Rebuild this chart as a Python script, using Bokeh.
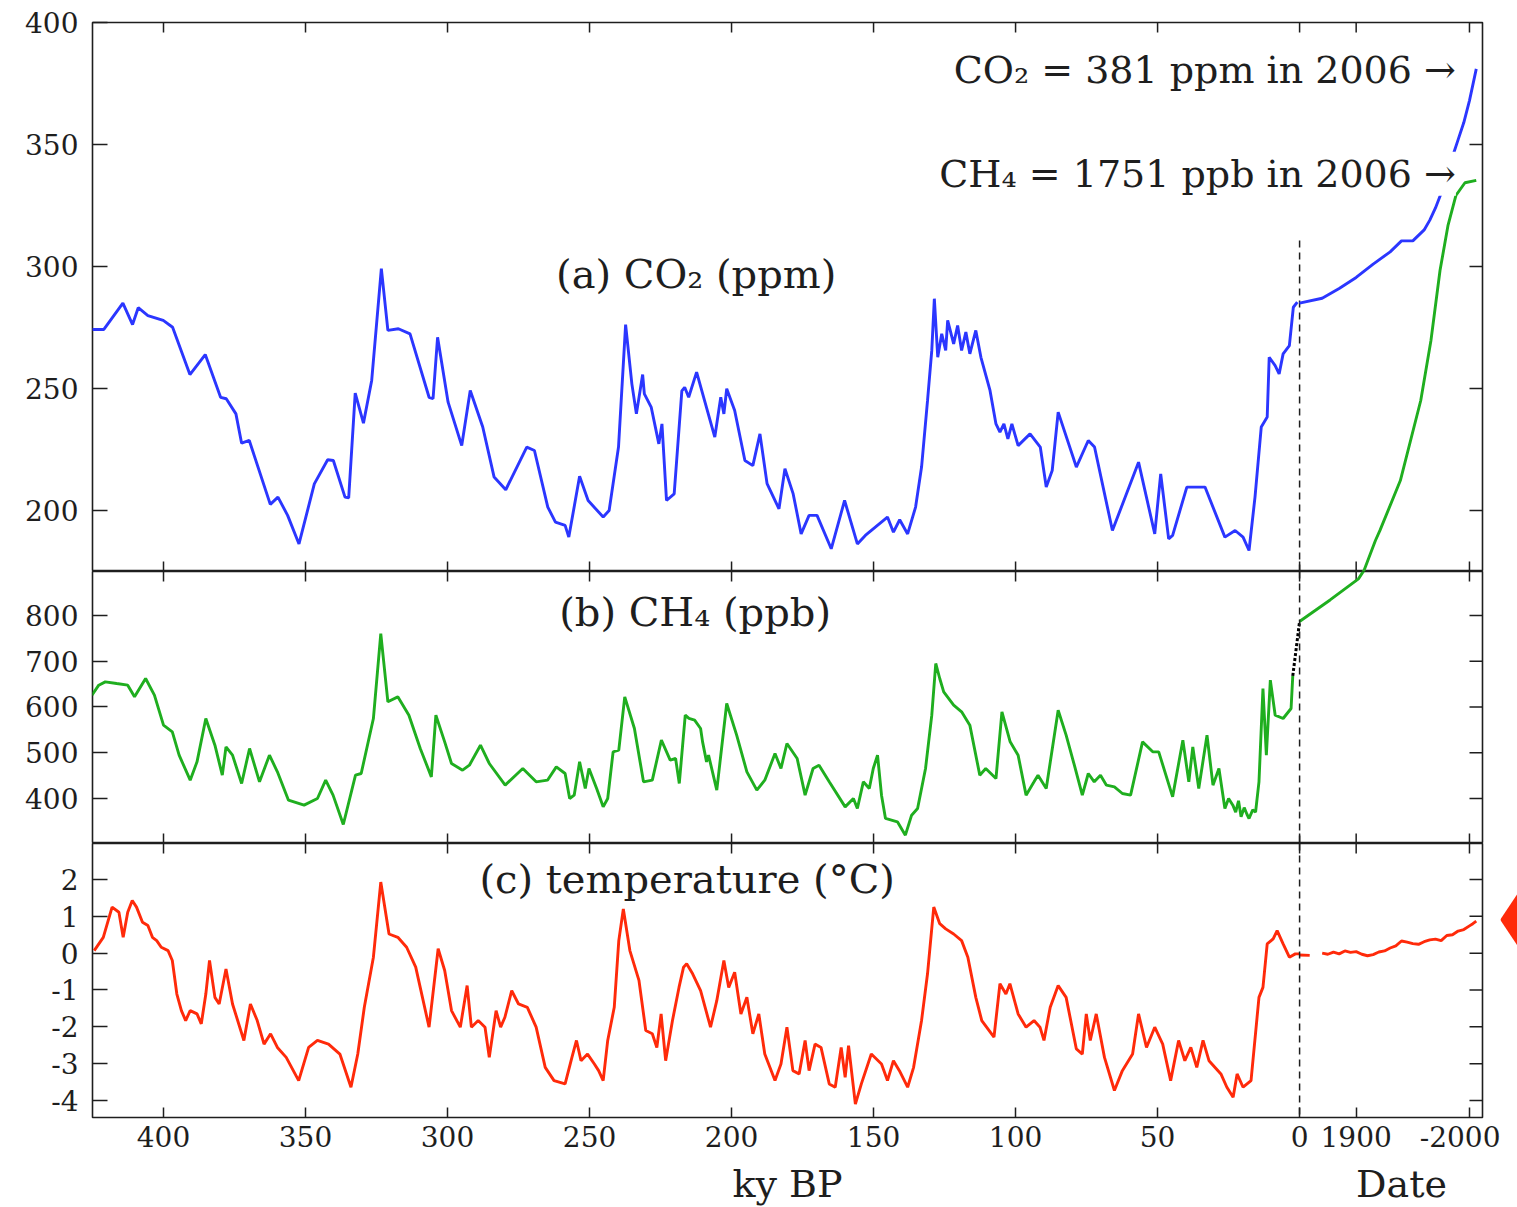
import math
from bokeh.plotting import figure
from bokeh.models import Range1d, LinearAxis, FixedTicker, Span, Label
from bokeh.layouts import column, row
from bokeh.embed import file_html
from bokeh.resources import INLINE

# ---------------- data ----------------
# (a) CO2, ice core: age in ky BP, ppm
co2_ky = [425.1, 421.0, 414.3, 410.9, 408.9, 405.5, 400.1, 396.8, 390.7, 385.3, 379.9, 377.9,
          374.5, 372.5, 369.8, 362.4, 359.7, 356.3, 352.3, 346.9, 342.2, 340.2, 336.1, 334.8,
          332.5, 329.6, 326.7, 323.3, 321.0, 317.3, 313.2, 306.5, 305.1, 303.5, 299.8, 295.0,
          292.0, 287.6, 283.6, 279.5, 272.1, 269.4, 264.7, 262.0, 258.6, 257.3, 253.5, 250.5,
          245.2, 243.1, 239.8, 237.3, 235.1, 233.5, 231.3, 230.7, 228.3, 225.6, 224.5, 222.9,
          220.2, 217.5, 216.5, 215.1, 212.3, 209.5, 205.9, 203.8, 202.7, 201.7, 198.9, 195.3,
          192.5, 190.0, 187.5, 183.3, 181.2, 178.3, 175.5, 172.7, 169.9, 164.9, 160.2, 155.7,
          152.9, 145.1, 143.0, 140.8, 138.0, 135.2, 133.1, 131.0, 129.5, 128.6, 127.4, 126.0,
          124.6, 123.9, 121.8, 120.4, 119.0, 117.5, 116.1, 114.0, 112.2, 109.0, 106.9, 105.5,
          104.1, 102.7, 101.3, 99.1, 94.9, 91.3, 89.2, 87.1, 85.0, 78.6, 74.4, 72.2, 65.9,
          56.7, 51.0, 48.9, 46.1, 44.7, 39.7, 33.3, 26.3, 22.7, 19.9, 17.8, 15.7, 13.5, 11.4,
          10.7, 8.6, 7.2, 5.8, 3.6, 2.2, 0.8]
co2_ppm = [274.2, 274.2, 285.0, 276.2, 283.1, 279.9, 277.9, 275.1, 255.7, 263.9, 246.4, 245.8,
           239.6, 227.6, 228.7, 202.5, 205.5, 198.0, 186.3, 210.9, 220.8, 220.5, 205.5, 205.2,
           248.1, 235.8, 253.3, 299.1, 273.8, 274.5, 272.4, 246.4, 245.8, 271.0, 244.4, 226.6,
           249.2, 234.2, 213.7, 208.5, 226.0, 224.6, 201.4, 195.2, 193.9, 189.1, 214.0, 204.1,
           197.3, 200.0, 226.0, 276.2, 251.9, 239.6, 255.7, 247.8, 242.4, 227.3, 235.5, 204.1,
           206.8, 249.0, 250.5, 246.4, 256.7, 245.0, 230.1, 246.4, 239.6, 249.9, 241.0, 220.5,
           218.4, 231.4, 211.0, 200.7, 217.1, 206.8, 190.4, 198.0, 198.0, 184.3, 204.1, 186.3,
           189.8, 197.3, 191.1, 196.2, 190.4, 201.4, 217.8, 245.0, 265.6, 286.8, 262.8, 272.4,
           265.6, 277.9, 268.3, 275.8, 265.6, 273.1, 264.2, 273.8, 262.8, 249.2, 235.5, 232.1,
           235.5, 229.4, 235.5, 226.6, 231.4, 226.0, 209.6, 216.4, 240.3, 217.8, 228.7, 226.0,
           191.8, 219.8, 190.4, 215.0, 188.4, 189.8, 209.6, 209.6, 189.1, 191.8, 189.1, 183.6,
           205.5, 234.2, 238.3, 262.8, 259.4, 256.0, 264.2, 267.6, 283.3, 285.4]
# CO2, instrumental era: calendar year, ppm
co2_year = [1850, 1870, 1885, 1900, 1915, 1930, 1940, 1950, 1960, 1965, 1970, 1975, 1980,
            1985, 1990, 1995, 2000, 2006]
co2_modern = [285.0, 287.0, 291.0, 295.5, 301.0, 306.0, 310.5, 310.5, 315.0, 319.0, 324.0,
              330.0, 337.0, 345.0, 352.0, 359.0, 368.0, 381.0]

# (b) CH4, ice core: ky BP, ppb
ch4_ky = [425.2, 422.8, 420.5, 416.5, 412.6, 410.2, 406.3, 403.2, 400.0, 396.9, 394.5, 390.6,
          388.2, 385.1, 381.9, 379.3, 378.0, 375.7, 372.5, 369.7, 366.2, 362.7, 359.9, 356.0,
          350.5, 345.8, 342.9, 340.3, 336.7, 332.4, 330.4, 326.1, 323.5, 321.0, 317.5, 313.6,
          309.6, 305.7, 304.1, 301.0, 298.6, 294.7, 292.3, 288.4, 285.3, 279.7, 273.5, 268.8,
          264.8, 261.7, 258.6, 257.0, 255.4, 253.5, 251.5, 250.2, 247.5, 245.2, 243.6, 241.7,
          239.7, 237.6, 234.2, 231.0, 227.9, 224.7, 221.6, 219.7, 218.4, 216.3, 215.0, 213.0,
          210.9, 210.2, 208.8, 208.1, 205.2, 201.7, 198.2, 194.6, 191.1, 188.3, 184.7, 182.6,
          180.5, 176.9, 174.1, 171.3, 169.2, 165.6, 160.0, 157.1, 155.7, 153.6, 151.5, 150.1,
          148.6, 147.2, 145.8, 141.6, 138.8, 136.6, 134.5, 131.7, 129.5, 128.1, 126.7, 125.3,
          121.8, 119.0, 116.1, 112.6, 110.5, 106.9, 104.8, 101.9, 99.1, 96.3, 93.5, 92.1, 89.2,
          85.0, 82.2, 79.3, 76.5, 74.4, 72.3, 70.1, 68.0, 65.2, 62.4, 59.5, 55.3, 51.7, 49.6,
          44.7, 41.1, 39.0, 37.6, 35.5, 32.6, 30.5, 28.4, 26.3, 25.0, 23.5, 22.5, 21.5, 20.6,
          19.5, 18.5, 17.8, 16.5, 15.5, 14.3, 12.9, 11.7, 10.3, 8.6, 5.8, 3.0, 2.4]
ch4_ppb = [625.8, 647.7, 655.0, 651.3, 647.7, 622.2, 662.3, 625.8, 560.3, 545.7, 494.7, 440.0,
           480.1, 574.8, 516.5, 451.0, 512.9, 494.7, 432.8, 509.3, 436.4, 494.7, 458.3, 396.3,
           385.4, 400.0, 440.0, 407.3, 343.1, 451.0, 454.6, 574.8, 760.6, 611.3, 622.2, 582.1,
           509.3, 447.3, 582.1, 523.8, 476.5, 461.9, 472.8, 516.5, 476.5, 429.1, 465.5, 436.4,
           440.0, 469.2, 454.6, 400.0, 407.3, 480.1, 421.8, 465.5, 421.8, 381.7, 400.0, 502.0,
           505.6, 622.2, 553.0, 436.4, 440.0, 527.5, 483.8, 487.4, 432.8, 582.1, 575.0, 571.2,
           553.0, 523.8, 480.1, 494.7, 418.2, 607.6, 538.4, 458.3, 418.2, 440.0, 498.3, 465.5,
           520.2, 487.4, 407.3, 465.5, 472.8, 436.4, 381.7, 400.0, 378.1, 436.4, 421.8, 465.5,
           494.7, 407.3, 356.3, 349.0, 319.8, 363.5, 378.1, 465.5, 582.1, 695.1, 662.3, 633.1,
           604.0, 589.4, 560.3, 451.0, 465.5, 443.7, 589.4, 523.8, 494.7, 407.3, 436.4, 451.0,
           421.8, 593.0, 538.4, 472.8, 407.3, 454.6, 436.4, 451.0, 429.1, 425.5, 410.9, 407.3,
           523.8, 502.0, 502.0, 403.6, 527.5, 436.4, 512.9, 421.8, 538.4, 429.1, 465.5, 378.1,
           400.0, 385.4, 370.0, 395.0, 359.9, 380.0, 365.0, 356.3, 375.0, 370.0, 436.4, 640.4,
           494.7, 658.6, 582.1, 574.8, 596.7, 668.0]
# short black dashed link between the ice core and the modern record
ch4_link_ky = [2.4, 0.0]
ch4_link_ppb = [668.0, 787.0]
# CH4, instrumental era: calendar year, ppb
ch4_year = [1850, 1877, 1902, 1907, 1917, 1921, 1939, 1957, 1966, 1974, 1981, 1988, 1996, 2006]
ch4_modern = [787, 834, 880, 899, 964, 986, 1095, 1270, 1401, 1554, 1652, 1718, 1746, 1751]

# (c) temperature, ice core: ky BP, deg C
temp_ky = [424.4, 421.2, 418.1, 415.7, 414.2, 412.6, 411.0, 409.5, 407.4, 405.5, 403.9, 402.4,
           400.8, 398.4, 396.9, 395.3, 393.7, 392.2, 390.6, 388.2, 386.7, 385.1, 383.8, 381.9,
           380.4, 378.0, 375.7, 371.7, 369.4, 367.0, 364.6, 362.3, 359.9, 356.8, 352.4, 348.9,
           345.8, 341.9, 337.9, 334.0, 331.6, 329.3, 326.1, 323.5, 320.6, 317.5, 314.4, 311.2,
           306.5, 303.3, 301.0, 298.6, 295.5, 293.1, 291.6, 289.2, 286.8, 285.3, 282.9, 281.3,
           279.8, 277.4, 275.0, 271.9, 268.8, 265.6, 262.5, 258.6, 256.2, 254.6, 253.0, 250.7,
           248.3, 246.8, 245.2, 243.6, 241.3, 239.7, 238.1, 235.8, 232.6, 230.2, 227.9, 226.3,
           224.8, 223.2, 220.8, 218.5, 216.9, 215.8, 213.7, 210.9, 207.4, 205.2, 202.7, 201.0,
           198.9, 196.7, 194.6, 192.5, 190.4, 188.3, 184.7, 182.6, 180.5, 178.4, 176.2, 174.1,
           172.7, 170.6, 168.5, 165.6, 163.5, 161.4, 160.0, 158.8, 156.4, 154.3, 150.8, 147.2,
           145.1, 143.0, 140.9, 138.0, 135.9, 133.1, 131.0, 128.8, 126.7, 124.6, 121.8, 119.0,
           116.8, 114.0, 111.9, 107.6, 105.5, 103.4, 102.0, 99.1, 96.3, 93.5, 91.4, 90.0, 87.8,
           85.0, 82.2, 78.6, 76.5, 75.1, 73.7, 71.6, 68.7, 65.2, 62.4, 58.8, 56.7, 53.9, 51.0,
           48.2, 45.4, 42.6, 40.4, 38.3, 36.2, 34.0, 31.9, 27.7, 25.6, 23.4, 22.0, 19.9, 17.1,
           14.3, 12.9, 11.4, 9.3, 7.9, 5.8, 3.6, 1.5, 0.1]
temp_c = [0.07, 0.43, 1.25, 1.11, 0.43, 1.11, 1.43, 1.25, 0.84, 0.75, 0.43, 0.34,
          0.16, 0.07, -0.20, -1.11, -1.56, -1.83, -1.56, -1.65, -1.92, -1.11, -0.20, -1.20,
          -1.38, -0.43, -1.38, -2.37, -1.38, -1.83, -2.47, -2.19, -2.56, -2.83, -3.46, -2.56,
          -2.37, -2.47, -2.74, -3.64, -2.74, -1.47, -0.11, 1.93, 0.52, 0.43, 0.16, -0.38,
          -2.01, 0.12, -0.47, -1.56, -2.01, -0.88, -2.01, -1.83, -2.01, -2.83, -1.56, -2.01,
          -1.74, -1.02, -1.38, -1.47, -2.01, -3.10, -3.46, -3.55, -2.83, -2.37, -2.92, -2.74,
          -3.01, -3.19, -3.46, -2.37, -1.47, 0.34, 1.20, 0.07, -0.74, -2.10, -2.19, -2.56,
          -1.65, -2.92, -1.83, -0.93, -0.38, -0.29, -0.56, -1.02, -2.01, -1.29, -0.20, -0.93,
          -0.52, -1.65, -1.20, -2.19, -1.65, -2.74, -3.46, -3.01, -2.01, -3.19, -3.28, -2.37,
          -3.19, -2.47, -2.56, -3.55, -3.64, -2.56, -3.37, -2.51, -4.10, -3.55, -2.74, -3.01,
          -3.46, -2.92, -3.19, -3.64, -3.10, -1.83, -0.56, 1.25, 0.80, 0.66, 0.52, 0.34,
          -0.11, -1.20, -1.83, -2.28, -0.83, -1.11, -0.83, -1.65, -2.01, -1.83, -2.01, -2.37, -1.47,
          -0.88, -1.20, -2.60, -2.74, -1.65, -2.37, -1.65, -2.83, -3.73, -3.19, -2.74, -1.65, -2.56, -2.01,
          -2.47, -3.46, -2.37, -2.92, -2.56, -3.10, -2.37, -2.92, -3.28, -3.64, -3.91, -3.28, -3.64, -3.46,
          -1.20, -0.93, 0.25, 0.39, 0.61, 0.25, -0.11, -0.02, -0.02]
# temperature, instrumental era: calendar year, deg C (NaN = gap in the record)
temp_year = [1850, 1859, float("nan"), 1870, 1875, 1880, 1885, 1890, 1895, 1900, 1905, 1910,
             1915, 1920, 1925, 1930, 1935, 1940, 1945, 1950, 1955, 1960, 1965, 1970, 1975,
             1980, 1985, 1990, 1995, 2000, 2003, 2006]
temp_modern = [-0.05, -0.06, float("nan"), 0.00, -0.03, 0.03, -0.02, 0.06, 0.02, 0.04, -0.03,
               -0.07, -0.04, 0.03, 0.06, 0.14, 0.20, 0.33, 0.30, 0.26, 0.24, 0.31, 0.36, 0.38,
               0.34, 0.48, 0.50, 0.60, 0.64, 0.74, 0.80, 0.87]

# ticks
ky_ticks = [400, 350, 300, 250, 200, 150, 100, 50, 0]
ky_tick_labels = ["400", "350", "300", "250", "200", "150", "100", "50", "0"]
year_ticks = [1900, 2000]
year_tick_labels = ["1900", "-2000"]
co2_ticks = [200, 250, 300, 350, 400]
ch4_ticks = [400, 500, 600, 700, 800]
temp_ticks = [-4, -3, -2, -1, 0, 1, 2]
temp_tick_labels = ["-4", "-3", "-2", "-1", "0", "1", "2"]

# ---------------- styling ----------------
FONT = "DejaVu Serif"
INK = "#1e1e1e"
BLUE = "#2b36ff"
GREEN = "#1fae1f"
RED = "#ff2a0a"
LW = 2.9
FRAME_W = 1390

KY = Range1d(425.0, -64.4)
YEAR = Range1d(784.7, 2011.5)
CO2_R = Range1d(175.0, 400.0)
CH4_TOP_R = Range1d(896.2, 2096.2)
CH4_R = Range1d(301.6, 896.2)
T_R = Range1d(-4.462, 2.977)
DASH_TOP_CO2 = 311.0
MARKER_TEMP = 0.91   # level of the red page marker at the right edge


def year_to_ky(d):
    return KY.start + (d - YEAR.start) * (KY.end - KY.start) / (YEAR.end - YEAR.start)


x_ticks = ky_ticks + [year_to_ky(d) for d in year_ticks]
x_labels = dict(zip(ky_ticks, ky_tick_labels))
x_labels.update({year_to_ky(d): s for d, s in zip(year_ticks, year_tick_labels)})


def panel(frame_h, y_range, top_b, bottom_b, right_b=35, outline=True):
    p = figure(frame_width=FRAME_W, frame_height=frame_h, x_range=KY, y_range=y_range,
               x_axis_type=None, y_axis_type=None, tools="", toolbar_location=None,
               output_backend="svg", min_border_left=92, min_border_right=right_b,
               min_border_top=top_b, min_border_bottom=bottom_b)
    p.extra_x_ranges = {"date": YEAR}
    p.outline_line_color = INK if outline else None
    p.outline_line_width = 1.6
    p.background_fill_color = "white"
    p.border_fill_color = "white"
    return p


def label_axis(ticks, tick_in, overrides, standoff):
    return LinearAxis(ticker=FixedTicker(ticks=ticks), major_tick_in=tick_in, major_tick_out=0,
                      minor_tick_line_color=None, axis_line_color=None,
                      major_tick_line_color=INK, major_tick_line_width=1.5,
                      major_label_standoff=standoff, major_label_text_font=FONT,
                      major_label_text_color=INK, major_label_text_font_size="28px",
                      major_label_overrides=overrides)


def edge_ticks(p, y_range, frame_h, yticks, top=True, bottom=True):
    """Inward tick marks on the top, bottom and right edges of a panel."""
    per_px = (y_range.end - y_range.start) / frame_h
    ky_per_px = (KY.start - KY.end) / FRAME_W
    style = dict(line_color=INK, line_width=1.5)
    n = len(x_ticks)
    if top:
        p.segment(x0=x_ticks, x1=x_ticks, y0=[y_range.end] * n,
                  y1=[y_range.end - 10 * per_px] * n, **style)
    if bottom:
        p.segment(x0=x_ticks, x1=x_ticks, y0=[y_range.start] * n,
                  y1=[y_range.start + 10 * per_px] * n, **style)
    m = len(yticks)
    p.segment(x0=[KY.end] * m, x1=[KY.end + 13 * ky_per_px] * m, y0=yticks, y1=yticks, **style)


def title(p, x, y, text, size="40px", **kw):
    p.add_layout(Label(x=x, y=y, text=text, text_align=kw.pop("align", "center"),
                       text_baseline="alphabetic", text_font=FONT, text_font_size=size,
                       text_color=INK, **kw))


# ---------------- (a) CO2 ----------------
p1 = panel(549, CO2_R, 22, 0)
p1.extra_y_ranges = {"ch4": CH4_TOP_R}
p1.add_layout(label_axis(co2_ticks, 15, {t: str(t) for t in co2_ticks}, 14), "left")
edge_ticks(p1, CO2_R, 549, co2_ticks)
p1.segment(x0=[0], y0=[CO2_R.start], x1=[0], y1=[DASH_TOP_CO2], line_color=INK,
           line_width=1.5, line_dash="7 5")
p1.line(co2_ky, co2_ppm, line_color=BLUE, line_width=LW)
p1.line(co2_year, co2_modern, x_range_name="date", line_color=BLUE, line_width=LW)
p1.line(ch4_year, ch4_modern, x_range_name="date", y_range_name="ch4", line_color=GREEN,
        line_width=LW)
title(p1, 210.2, 297, "(a)  CO\u2082 (ppm)")
title(p1, 1988, 380.5, "CO\u2082 = 381 ppm in 2006 \u2192", size="38px", align="right",
      x_range_name="date")
title(p1, 1988, 338, "CH\u2084 = 1751 ppb in 2006 \u2192", size="38px", align="right",
      x_range_name="date", background_fill_color="white")

# ---------------- (b) CH4 ----------------
p2 = panel(272, CH4_R, 0, 0)
p2.add_layout(label_axis(ch4_ticks, 15, {t: str(t) for t in ch4_ticks}, 14), "left")
edge_ticks(p2, CH4_R, 272, ch4_ticks)
p2.add_layout(Span(location=0, dimension="height", line_color=INK, line_width=1.5,
                   line_dash="7 5"))
p2.line(ch4_ky, ch4_ppb, line_color=GREEN, line_width=LW)
p2.line(ch4_link_ky, ch4_link_ppb, line_color="black", line_width=3, line_dash="3 2")
p2.line(ch4_year, ch4_modern, x_range_name="date", line_color=GREEN, line_width=LW)
title(p2, 210.6, 808, "(b)  CH\u2084 (ppb)")

# ---------------- (c) temperature ----------------
p3 = panel(274, T_R, 0, 45, right_b=18)
p3.add_layout(label_axis(temp_ticks, 15, dict(zip(temp_ticks, temp_tick_labels)), 14), "left")
p3.add_layout(label_axis(x_ticks, 10, x_labels, 8), "below")
edge_ticks(p3, T_R, 274, temp_ticks, bottom=False)
p3.add_layout(Span(location=0, dimension="height", line_color=INK, line_width=1.5,
                   line_dash="7 5"))
p3.line(temp_ky, temp_c, line_color=RED, line_width=LW)
p3.line(temp_year, temp_modern, x_range_name="date", line_color=RED, line_width=LW)
title(p3, 213.4, 2.0, "(c)  temperature (\u00b0C)")

# thin strip at the right edge holding the red page marker
pm = figure(frame_width=17, frame_height=274, x_range=Range1d(0, 1), y_range=T_R,
            x_axis_type=None, y_axis_type=None, tools="", toolbar_location=None,
            output_backend="svg", min_border_left=0, min_border_right=0, min_border_top=0,
            min_border_bottom=45)
pm.outline_line_color = None
pm.border_fill_color = "white"
pm.scatter(x=[1.0], y=[MARKER_TEMP], marker="diamond", size=52, fill_color=RED, line_color=None)

# axis titles strip
p4 = panel(45, Range1d(0, 1), 0, 0, outline=False)
title(p4, 180.3, 0.53, "ky BP", size="38px")
title(p4, 1940, 0.53, "Date", size="38px", x_range_name="date")

layout = column(p1, p2, row(p3, pm), p4, spacing=0)
open("out.html", "w").write(file_html(layout, INLINE))
